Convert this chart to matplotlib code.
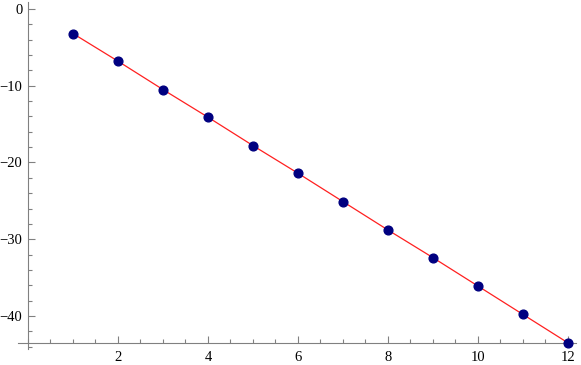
import numpy as np
import matplotlib
matplotlib.use("Agg")
import matplotlib.pyplot as plt
from matplotlib.ticker import MultipleLocator

# data
xs = [1, 2, 3, 4, 5, 6, 7, 8, 9, 10, 11, 12]
ys = [-3.2, -6.8, -10.5, -14.1, -17.8, -21.4, -25.1, -28.8, -32.4, -36.1, -39.8, -43.5]
x_ticks = [2, 4, 6, 8, 10, 12]
y_ticks = [0, -10, -20, -30, -40]

plt.rcParams['font.family'] = ['Liberation Serif', 'DejaVu Serif']

W, H = 581, 365
fig = plt.figure(figsize=(W / 100, H / 100), dpi=100)
ax = fig.add_axes([18 / W, 16 / H, (576 - 18) / W, (363 - 16) / H])

ax.plot(xs, ys, color='#ff2020', lw=0.9, zorder=2)
ax.plot(xs, ys, 'o', color='#000080', ms=6.3, mec='#000080', zorder=3, clip_on=False)

ax.set_xlim(-0.222, 12.178)
ax.set_ylim(-44.3, 0.91)

# Mathematica-like axes crossing at (0, last value)
ax.spines['left'].set_position(('data', 0))
ax.spines['bottom'].set_position(('data', ys[-1]))
ax.spines['top'].set_visible(False)
ax.spines['right'].set_visible(False)
for s in ('left', 'bottom'):
    ax.spines[s].set_color('#808080')
    ax.spines[s].set_linewidth(0.8)

ax.set_xticks(x_ticks)
ax.set_yticks(y_ticks)
ax.xaxis.set_minor_locator(MultipleLocator(0.5))
ax.yaxis.set_minor_locator(MultipleLocator(2))
ax.tick_params(which='both', direction='in', color='#808080', width=0.8, labelsize=10.5, labelcolor='black')
ax.tick_params(which='major', length=5)
ax.tick_params(which='minor', length=3)
ax.tick_params(axis='x', pad=6)
ax.tick_params(axis='y', pad=4)

fig.savefig('out.png', dpi=100)
